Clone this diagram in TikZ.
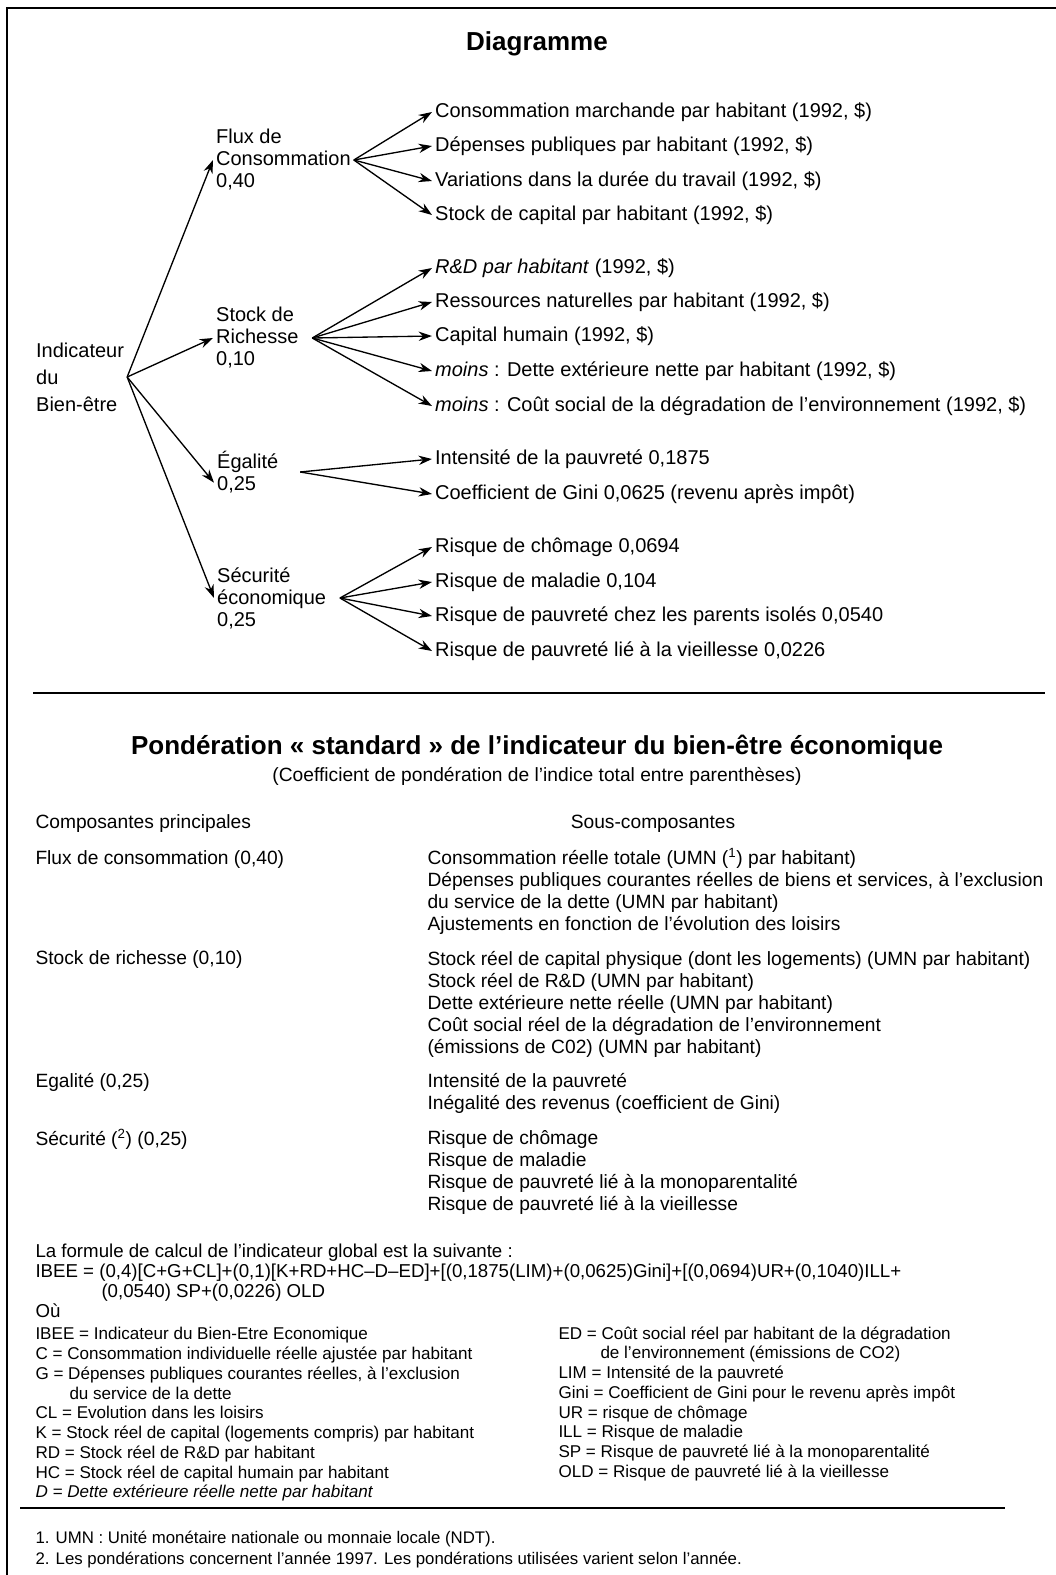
\documentclass[tikz,border=0pt]{standalone}
\usepackage{fontspec}
\setmainfont{Liberation Sans}
\usetikzlibrary{arrows.meta}

\tikzset{every picture/.style={line width=0.75pt}}
\tikzset{
  fleche/.style={-{Stealth[length=10pt,width=7pt]}, line width=1pt},
  arbre/.style={anchor=west, inner sep=2pt, align=left, font=\fontsize{15}{16.5}\selectfont},
  titre/.style={inner sep=0.75pt, font=\bfseries\fontsize{19.5}{22}\selectfont},
  ligne/.style={anchor=west, inner sep=0pt, font=\fontsize{14.4}{16.5}\selectfont},
  tableau/.style={anchor=north west, inner sep=0pt, align=left, font=\fontsize{14.4}{16.5}\selectfont},
  legende/.style={anchor=north west, inner sep=0pt, align=left, font=\fontsize{12.8}{14.8}\selectfont},
  trait/.style={line width=1.5pt},
}

\begin{document}
\begin{tikzpicture}[x=0.75pt,y=0.75pt,yscale=-1,xscale=1]
\useasboundingbox (0,0) rectangle (1056,1575);

%Frame
\draw [trait] (7,1575) -- (7,8) -- (1056,8) ;

% Text Node
\draw (537,44) node [titre] (titre1) {Diagramme};

% Text Node
\draw (33,377) node [arbre, font=\fontsize{15}{20.25}\selectfont] (racine) {Indicateur\\du\\Bien-être};
% Text Node
\draw (213,160) node [arbre] (flux) {Flux de\\Consommation\\0,40};
% Text Node
\draw (213,338) node [arbre] (stock) {Stock de\\Richesse\\0,10};
% Text Node
\draw (214,472) node [arbre] (egal) {Égalité\\0,25};
% Text Node
\draw (214,598) node [arbre] (secu) {Sécurité\\économique\\0,25};

% Text Node
\draw (432,112) node [arbre] (f1) {Consommation marchande par habitant (1992, \$)};
\draw (432,146) node [arbre] (f2) {Dépenses publiques par habitant (1992, \$)};
\draw (432,181) node [arbre] (f3) {Variations dans la durée du travail (1992, \$)};
\draw (432,215) node [arbre] (f4) {Stock de capital par habitant (1992, \$)};
% Text Node
\draw (432,268) node [arbre] (s1) {\textit{R\&D par habitant} (1992, \$)};
\draw (432,302) node [arbre] (s2) {Ressources naturelles par habitant (1992, \$)};
\draw (432,336) node [arbre] (s3) {Capital humain (1992, \$)};
\draw (432,371) node [arbre] (s4) {\textit{moins} : Dette extérieure nette par habitant (1992, \$)};
\draw (432,406) node [arbre] (s5) {\textit{moins} : Coût social de la dégradation de l’environnement (1992, \$)};
% Text Node
\draw (432,459) node [arbre] (e1) {Intensité de la pauvreté 0,1875};
\draw (432,494) node [arbre] (e2) {Coefficient de Gini 0,0625 (revenu après impôt)};
% Text Node
\draw (432,547) node [arbre] (r1) {Risque de chômage 0,0694};
\draw (432,582) node [arbre] (r2) {Risque de maladie 0,104};
\draw (432,616) node [arbre] (r3) {Risque de pauvreté chez les parents isolés 0,0540};
\draw (432,651) node [arbre] (r4) {Risque de pauvreté lié à la vieillesse 0,0226};

%Straight Lines
\draw [fleche] (racine.east) -- (flux.west) ;
\draw [fleche] (racine.east) -- (stock.west) ;
\draw [fleche] (racine.east) -- ([yshift=8pt]egal.west) ;
\draw [fleche] (racine.east) -- (secu.west) ;
%Straight Lines
\foreach \n in {f1,f2,f3,f4} \draw [fleche] (flux.east) -- (\n.west) ;
\foreach \n in {s1,s2,s3,s4,s5} \draw [fleche] ([xshift=8pt]stock.east) -- (\n.west) ;
\foreach \n in {e1,e2} \draw [fleche] ([xshift=14pt]egal.east) -- (\n.west) ;
\foreach \n in {r1,r2,r3,r4} \draw [fleche] ([xshift=8pt]secu.east) -- (\n.west) ;

%Separator
\draw [trait] (33,693) -- (1045,693) ;

% Text Node
\draw (537,747) node [titre] (titre2) {Pondération « standard » de l’indicateur du bien-être économique};
% Text Node
\draw (537,776) node [ligne, anchor=center] (soustitre) {(Coefficient de pondération de l’indice total entre parenthèses)};

% Text Node
\draw (35,824) node [ligne] (entete1) {Composantes principales};
\draw (653,824) node [ligne, anchor=center] (entete2) {Sous-composantes};

% Text Node
\draw (35,860) node [ligne] (c1) {Flux de consommation (0,40)};
\draw (427,848) node [tableau] (d1) {Consommation réelle totale (UMN (\textsuperscript{1}) par habitant)\\Dépenses publiques courantes réelles de biens et services, à l’exclusion\\du service de la dette (UMN par habitant)\\Ajustements en fonction de l’évolution des loisirs};
% Text Node
\draw (35,960) node [ligne] (c2) {Stock de richesse (0,10)};
\draw (427,951) node [tableau] (d2) {Stock réel de capital physique (dont les logements) (UMN par habitant)\\Stock réel de R\&D (UMN par habitant)\\Dette extérieure nette réelle (UMN par habitant)\\Coût social réel de la dégradation de l’environnement\\(émissions de C02) (UMN par habitant)};
% Text Node
\draw (35,1082) node [ligne] (c3) {Egalité (0,25)};
\draw (427,1073) node [tableau] (d3) {Intensité de la pauvreté\\Inégalité des revenus (coefficient de Gini)};
% Text Node
\draw (35,1139) node [ligne] (c4) {Sécurité (\textsuperscript{2}) (0,25)};
\draw (427,1130) node [tableau] (d4) {Risque de chômage\\Risque de maladie\\Risque de pauvreté lié à la monoparentalité\\Risque de pauvreté lié à la vieillesse};

% Text Node
\draw (35,1243) node [tableau, font=\fontsize{14}{15}\selectfont] (formule) {La formule de calcul de l’indicateur global est la suivante :\\IBEE = (0,4)[C+G+CL]+(0,1)[K+RD+HC–D–ED]+[(0,1875(LIM)+(0,0625)Gini]+[(0,0694)UR+(0,1040)ILL+\\\hspace*{49.5pt}(0,0540) SP+(0,0226) OLD\\Où};
% Text Node
\draw (35,1327) node [legende] (leg1) {IBEE = Indicateur du Bien-Etre Economique\\C = Consommation individuelle réelle ajustée par habitant\\G = Dépenses publiques courantes réelles, à l’exclusion\\\hspace*{25.5pt}du service de la dette\\CL = Evolution dans les loisirs\\K = Stock réel de capital (logements compris) par habitant\\RD = Stock réel de R\&D par habitant\\HC = Stock réel de capital humain par habitant\\\textit{D = Dette extérieure réelle nette par habitant}};
% Text Node
\draw (558,1326) node [legende] (leg2) {ED = Coût social réel par habitant de la dégradation\\\hspace*{31.5pt}de l’environnement (émissions de CO2)\\LIM = Intensité de la pauvreté\\Gini = Coefficient de Gini pour le revenu après impôt\\UR = risque de chômage\\ILL = Risque de maladie\\SP = Risque de pauvreté lié à la monoparentalité\\OLD = Risque de pauvreté lié à la vieillesse};

%Separator
\draw [trait] (20,1508) -- (1005,1508) ;

% Text Node
\draw (35,1531) node [legende, font=\fontsize{12.6}{15.2}\selectfont] (notes) {1. UMN : Unité monétaire nationale ou monnaie locale (NDT).\\2. Les pondérations concernent l’année 1997. Les pondérations utilisées varient selon l’année.};
\end{tikzpicture}
\end{document}
